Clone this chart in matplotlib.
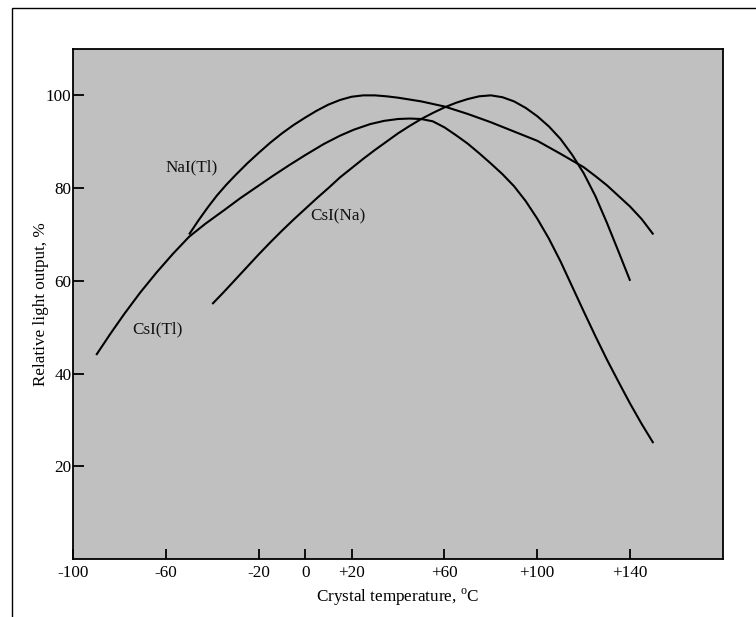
import matplotlib
matplotlib.use("Agg")
import matplotlib.pyplot as plt
from matplotlib.patches import Rectangle

plt.rcParams['font.family'] = ['Liberation Serif', 'DejaVu Serif']
plt.rcParams['mathtext.fontset'] = 'custom'
plt.rcParams['mathtext.rm'] = 'Liberation Serif'

# ---- data ----
csi_tl_t = [-90, -84, -78, -71, -64, -57, -50, -43, -35, -28, -21, -14, -7, 0, 8, 15, 21, 28, 34, 40, 45,
            50, 55, 60, 65, 70, 75, 80, 85, 90, 95, 100, 105, 110, 115, 120, 125, 130, 135, 140, 145, 150]
csi_tl_v = [44, 48.5, 52.8, 57.5, 61.8, 65.8, 69.5, 72.3, 75.2, 77.8, 80.2, 82.6, 84.9, 87.1, 89.5, 91.3, 92.6, 93.8, 94.5, 94.9, 95.0,
            94.9, 94.4, 93.1, 91.4, 89.6, 87.5, 85.3, 83.0, 80.4, 77.2, 73.4, 69.1, 64.2, 58.8, 53.4, 48.1, 43.0, 38.2, 33.5, 29.1, 25]

nai_tl_t = [-50, -46, -42, -38, -34, -30, -25, -20, -15, -10, -5, 0, 5, 10, 15, 20, 25, 30, 35, 40, 50,
            60, 70, 80, 90, 100, 110, 120, 125, 130, 135, 140, 145, 150]
nai_tl_v = [70, 73.0, 75.8, 78.4, 80.7, 82.8, 85.3, 87.6, 89.8, 91.8, 93.6, 95.2, 96.7, 98.0, 99.0, 99.7, 100, 100, 99.8, 99.5, 98.7,
            97.6, 96.0, 94.2, 92.2, 90.2, 87.4, 84.5, 82.6, 80.6, 78.3, 76.0, 73.3, 70]

csi_na_t = [-40, -35, -30, -25, -20, -15, -10, -5, 0, 5, 10, 15, 20, 25, 30, 35, 40, 45, 50, 55, 60, 65, 70, 75,
            80, 85, 90, 95, 100, 105, 110, 115, 120, 125, 130, 135, 140]
csi_na_v = [55, 57.6, 60.3, 63.0, 65.7, 68.3, 70.8, 73.2, 75.5, 77.8, 80.0, 82.3, 84.3, 86.3, 88.2, 90.0, 91.8, 93.4, 94.9, 96.2, 97.4, 98.4, 99.2, 99.8,
            100, 99.6, 98.7, 97.3, 95.5, 93.3, 90.6, 87.2, 83.2, 78.3, 72.5, 66.3, 60]

labels = ["CsI(Tl)", "NaI(Tl)", "CsI(Na)"]
label_pos = [(-63.8, 49.6), (-48.7, 84.5), (14.1, 74.0)]

x_ticks = [-100, -60, -20, 0, 20, 60, 100, 140]
x_tick_labels = ["-100", "-60", "-20", "0", "+20", "+60", "+100", "+140"]
y_ticks = [20, 40, 60, 80, 100]
y_tick_labels = ["20", "40", "60", "80", "100"]

W, H = 756, 617
fig = plt.figure(figsize=(W / 100, H / 100), dpi=100)
fig.patch.set_facecolor('white')

# outer frame (cut off at right and bottom)
fig.patches.append(Rectangle((11.5 / W, -0.1), 1.2, 1.1 - 7.5 / H, transform=fig.transFigure,
                             fill=False, edgecolor='black', linewidth=1.0))

ax = fig.add_axes([73 / W, 1 - 559 / H, (723 - 73) / W, (559 - 49) / H])
ax.set_facecolor('#c0c0c0')

for t, v in [(csi_tl_t, csi_tl_v), (nai_tl_t, nai_tl_v), (csi_na_t, csi_na_v)]:
    ax.plot(t, v, color='black', linewidth=1.5, solid_capstyle='butt', solid_joinstyle='round')

for lab, (lx, ly) in zip(labels, label_pos):
    ax.text(lx, ly, lab, fontsize=12.3, ha='center', va='center', color='#111111')

ax.set_xlim(-100, 180)
ax.set_ylim(0, 110)
ax.set_xticks(x_ticks)
ax.set_xticklabels(x_tick_labels)
ax.set_yticks(y_ticks)
ax.set_yticklabels(y_tick_labels)
ax.tick_params(axis='x', direction='in', length=7, width=1.3, labelsize=12.3, pad=4)
ax.tick_params(axis='y', direction='in', length=8, width=1.3, labelsize=12.3, pad=1)
for s in ax.spines.values():
    s.set_linewidth(1.3)

ax.set_xlabel(r"Crystal temperature, $^{\mathrm{o}}$C", fontsize=12.3, labelpad=4)
ax.set_ylabel("Relative light output, %", fontsize=12.3, labelpad=-2)

fig.savefig("out.png", dpi=100)
